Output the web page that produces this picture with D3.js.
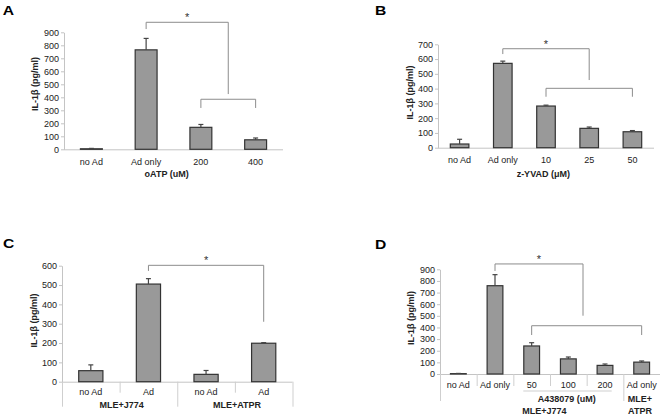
<!DOCTYPE html>
<html><head><meta charset="utf-8">
<script src="https://cdn.jsdelivr.net/npm/d3@7"></script>
<style>body{margin:0;background:#fff}svg{display:block}</style>
</head><body><svg id="c" width="661" height="416"></svg>
<script>
// ---- Data ----
const catsA = ["no Ad", "Ad only", "200", "400"];
const valsA = [4, 765, 169, 73];
const errA  = [3, 88, 22, 14];
const ticksA = [0, 100, 200, 300, 400, 500, 600, 700, 800, 900];

const catsB = ["no Ad", "Ad only", "10", "25", "50"];
const valsB = [25, 571, 282, 131, 108];
const errB  = [32, 15, 6, 9, 8];
const ticksB = [0, 100, 200, 300, 400, 500, 600, 700];

const catsC = ["no Ad", "Ad", "no Ad", "Ad"];
const groupsC = ["MLE+J774", "MLE+ATPR"];
const valsC = [57, 505, 38, 199];
const errC  = [30, 28, 20, 3];
const ticksC = [0, 100, 200, 300, 400, 500, 600];

const catsD = ["no Ad", "Ad only", "50", "100", "200", "Ad only"];
const valsD = [3, 759, 241, 130, 74, 102];
const errD  = [2, 95, 28, 16, 12, 10];
const ticksD = [0, 100, 200, 300, 400, 500, 600, 700, 800, 900];

const FONT = "'Liberation Sans', Arial, Helvetica, sans-serif";
const svg = d3.select("#c");
svg.append("rect").attr("width", 661).attr("height", 416).attr("fill", "#fff");

function panel(o) {
  const n = o.cats.length;
  const x = d3.scaleBand().domain(d3.range(n)).range([o.x0, o.x1]).padding(0);
  const y = d3.scaleLinear().domain([0, o.ymax]).range([o.y0, o.yTop]);
  const bw = x.bandwidth();
  const xc = i => o.x0 + (i + 0.5) * bw;
  const xe = i => o.x0 + i * bw;
  const g = svg.append("g");

  // y axis
  const ax = g.append("g").attr("transform", `translate(${o.x0},0)`)
    .call(d3.axisLeft(y).tickValues(o.ticks).tickSize(3).tickSizeOuter(0).tickPadding(2));
  ax.select(".domain").attr("stroke", "#c4c4c4");
  ax.selectAll(".tick line").attr("stroke", "#c4c4c4");
  ax.selectAll(".tick text").attr("font-size", 9).attr("fill", "#222").attr("font-family", FONT);

  // x baseline
  g.append("line").attr("x1", o.x0).attr("x2", o.x1).attr("y1", o.y0 + 0.5).attr("y2", o.y0 + 0.5)
    .attr("stroke", "#c4c4c4");

  // category separators
  if (o.seps) {
    o.seps.forEach(s => {
      g.append("line").attr("x1", xe(s.i) + 0.5).attr("x2", xe(s.i) + 0.5)
        .attr("y1", o.y0).attr("y2", o.y0 + s.len).attr("stroke", "#cfcfcf");
    });
  }

  // bars
  const barW = bw * o.barRatio;
  g.selectAll("rect.bar").data(o.vals).join("rect").attr("class", "bar")
    .attr("x", (d, i) => xc(i) - barW / 2)
    .attr("y", d => y(d))
    .attr("width", barW)
    .attr("height", d => o.y0 - y(d))
    .attr("fill", "#999999").attr("stroke", "#333").attr("stroke-width", 1.2);

  // error bars
  o.vals.forEach((v, i) => {
    const e = o.errs[i];
    g.append("line").attr("x1", xc(i)).attr("x2", xc(i)).attr("y1", y(v)).attr("y2", y(v + e))
      .attr("stroke", "#444").attr("stroke-width", 1.2);
    g.append("line").attr("x1", xc(i) - 2.5).attr("x2", xc(i) + 2.5).attr("y1", y(v + e)).attr("y2", y(v + e))
      .attr("stroke", "#444").attr("stroke-width", 1.2);
  });

  // category labels
  g.selectAll("text.cat").data(o.cats).join("text").attr("class", "cat")
    .attr("x", (d, i) => xc(i)).attr("y", o.catY)
    .attr("text-anchor", "middle").attr("font-size", 9).attr("fill", "#222").attr("font-family", FONT)
    .text(d => d);

  // brackets
  o.brackets.forEach(b => {
    const xa = xc(b.from), xb = xc(b.to), yt = y(b.y);
    g.append("path")
      .attr("d", `M${xa},${y(b.dropL)}V${yt}H${xb}V${y(b.dropR)}`)
      .attr("fill", "none").attr("stroke", "#8c8c8c").attr("stroke-width", 1);
    if (b.star) {
      g.append("text").attr("x", (xa + xb) / 2).attr("y", yt - 1)
        .attr("text-anchor", "middle").attr("font-size", 11).attr("fill", "#333").attr("font-family", FONT)
        .text("*");
    }
  });

  // y label
  g.append("text").attr("transform", `translate(${o.ylx},${o.yly}) rotate(-90)`)
    .attr("text-anchor", "middle").attr("font-size", 9).attr("font-weight", "bold").attr("fill", "#222")
    .attr("font-family", FONT).text("IL-1β (pg/ml)");

  // extra texts
  (o.texts || []).forEach(t => {
    g.append("text").attr("x", t.x).attr("y", t.y).attr("text-anchor", "middle")
      .attr("font-size", 9).attr("font-weight", t.bold ? "bold" : "normal").attr("fill", "#222")
      .attr("font-family", FONT).text(t.s);
  });
  (o.lines || []).forEach(l => {
    g.append("line").attr("x1", l[0]).attr("y1", l[1]).attr("x2", l[2]).attr("y2", l[3]).attr("stroke", "#cfcfcf");
  });

  // panel letter
  g.append("text").attr("x", o.lx).attr("y", o.ly).attr("font-size", 13).attr("font-weight", "bold")
    .attr("fill", "#000").attr("font-family", FONT)
    .attr("textLength", 11.3).attr("lengthAdjust", "spacingAndGlyphs").text(o.letter);
}

panel({
  letter: "A", lx: 2.7, ly: 15,
  cats: catsA, vals: valsA, errs: errA, ticks: ticksA, ymax: 900,
  x0: 64, x1: 283, y0: 149.3, yTop: 32.3, barRatio: 0.40, catY: 165,
  ylx: 38, yly: 84,
  brackets: [
    { from: 1, to: 2.5, y: 977, dropL: 925, dropR: 425, star: true },
    { from: 2, to: 3, y: 385, dropL: 318, dropR: 318 }
  ],
  texts: [{ x: 166.7, y: 176.5, s: "oATP (uM)", bold: true }]
});

panel({
  letter: "B", lx: 375, ly: 15,
  cats: catsB, vals: valsB, errs: errB, ticks: ticksB, ymax: 700,
  x0: 438, x1: 654, y0: 147.7, yTop: 44.3, barRatio: 0.43, catY: 162.5,
  ylx: 413, yly: 92.5,
  brackets: [
    { from: 1, to: 3, y: 670, dropL: 634, dropR: 458, star: true },
    { from: 2, to: 4, y: 402, dropL: 345, dropR: 345 }
  ],
  texts: [{ x: 543.3, y: 176.5, s: "z-YVAD (μM)", bold: true }]
});

panel({
  letter: "C", lx: 3, ly: 248.3,
  cats: catsC, vals: valsC, errs: errC, ticks: ticksC, ymax: 600,
  x0: 62, x1: 292.5, y0: 381.7, yTop: 265.7, barRatio: 0.42, catY: 395,
  ylx: 36.5, yly: 320.5,
  seps: [{ i: 0, len: 25 }, { i: 1, len: 11 }, { i: 2, len: 25 }, { i: 3, len: 11 }, { i: 4, len: 25 }],
  brackets: [
    { from: 1, to: 3, y: 602, dropL: 573, dropR: 310, star: true }
  ],
  texts: [
    { x: 121.7, y: 408, s: groupsC[0], bold: true },
    { x: 237, y: 408, s: groupsC[1], bold: true }
  ]
});

panel({
  letter: "D", lx: 375, ly: 249.3,
  cats: catsD, vals: valsD, errs: errD, ticks: ticksD, ymax: 900,
  x0: 440, x1: 660, y0: 374, yTop: 269.3, barRatio: 0.43, catY: 387.5,
  ylx: 414, yly: 318,
  seps: [{ i: 0, len: 27 }, { i: 1, len: 12 }, { i: 2, len: 12 }, { i: 3, len: 12 }, { i: 4, len: 12 }, { i: 5, len: 27 }],
  brackets: [
    { from: 1, to: 3.4, y: 946, dropL: 886, dropR: 501, star: true },
    { from: 2, to: 5, y: 415, dropL: 335, dropR: 335 }
  ],
  texts: [
    { x: 566.7, y: 401.5, s: "A438079 (uM)", bold: true },
    { x: 544.3, y: 414, s: "MLE+J774", bold: true },
    { x: 640, y: 401.5, s: "MLE+", bold: true },
    { x: 640, y: 414, s: "ATPR", bold: true }
  ],
  lines: [[523.3, 391, 611.7, 391]]
});
</script>
</body></html>
